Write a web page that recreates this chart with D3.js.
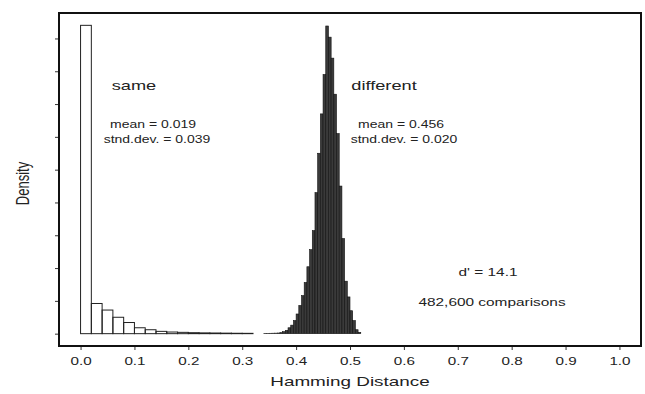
<!DOCTYPE html>
<html>
<head>
<meta charset="utf-8">
<script src="https://cdn.jsdelivr.net/npm/d3@7"></script>
<style>
  body { margin: 0; background: #fff; }
  text { font-family: "Liberation Sans", Arial, sans-serif; fill: #222; }
</style>
</head>
<body>
<svg id="chart" width="645" height="394"></svg>
<script>
// "same" eye comparisons, bin width 0.02
const sameBinWidth = 0.02;
const sameStarts = [0.00, 0.02, 0.04, 0.06, 0.08, 0.10, 0.12, 0.14, 0.16, 0.18, 0.20, 0.22, 0.24, 0.26, 0.28, 0.30];
const sameDensity = [47.0, 4.6, 3.6, 2.5, 1.7, 0.9, 0.6, 0.35, 0.25, 0.2, 0.15, 0.12, 0.1, 0.08, 0.06, 0.05];

// "different" eye comparisons, bin width 0.005
const diffBinWidth = 0.005;
const diffStarts = [0.340, 0.345, 0.350, 0.355, 0.360, 0.365, 0.370, 0.375, 0.380, 0.385,
  0.390, 0.395, 0.400, 0.405, 0.410, 0.415, 0.420, 0.425, 0.430, 0.435,
  0.440, 0.445, 0.450, 0.455, 0.460, 0.465, 0.470, 0.475, 0.480, 0.485,
  0.490, 0.495, 0.500, 0.505, 0.510, 0.515];
const diffDensity = [0.05, 0.05, 0.06, 0.07, 0.08, 0.1, 0.15, 0.3, 0.5, 0.9,
  1.3, 2.0, 3.0, 4.3, 5.8, 7.8, 10.2, 12.8, 15.7, 21.5,
  27.5, 33.5, 39.5, 46.9, 45.2, 42.0, 36.5, 30.5, 22.5, 14.5,
  8.0, 5.6, 3.5, 2.0, 0.6, 0.2];

const xTicks = [0, 0.1, 0.2, 0.3, 0.4, 0.5, 0.6, 0.7, 0.8, 0.9, 1.0];
const yTicks = [0, 5, 10, 15, 20, 25, 30, 35, 40, 45];

const sameLabels = ["same", "mean = 0.019", "stnd.dev. = 0.039"];
const diffLabels = ["different", "mean = 0.456", "stnd.dev. = 0.020"];
const summaryLabels = ["d' = 14.1", "482,600 comparisons"];

const svg = d3.select("#chart");
const plotLeft = 59, plotRight = 641, plotTop = 13, plotBottom = 346;
// the original figure is stretched sideways, text included
const stretch = 1.4;

const x = d3.scaleLinear().domain([-0.04, 1.04]).range([plotLeft, plotRight]);
const y = d3.scaleLinear().domain([-1.88, 48.88]).range([plotBottom, plotTop]);

const same = sameStarts.map((s, i) => ({ x0: s, x1: s + sameBinWidth, v: sameDensity[i] }));
const diff = diffStarts.map((s, i) => ({ x0: s, x1: s + diffBinWidth, v: diffDensity[i] }));

// different histogram (dark)
svg.append("g")
  .selectAll("rect")
  .data(diff)
  .join("rect")
  .attr("x", d => x(d.x0))
  .attr("y", d => y(d.v))
  .attr("width", d => x(d.x1) - x(d.x0))
  .attr("height", d => y(0) - y(d.v))
  .attr("fill", "#3a3a3a")
  .attr("stroke", "#111")
  .attr("stroke-width", 0.6);

// same histogram (open bars)
svg.append("g")
  .selectAll("rect")
  .data(same)
  .join("rect")
  .attr("x", d => x(d.x0))
  .attr("y", d => y(d.v))
  .attr("width", d => x(d.x1) - x(d.x0))
  .attr("height", d => y(0) - y(d.v))
  .attr("fill", "none")
  .attr("stroke", "#222")
  .attr("stroke-width", 1);

// axes
const xAxis = svg.append("g")
  .attr("transform", `translate(0,${plotBottom})`)
  .call(d3.axisBottom(x).tickValues(xTicks).tickSize(4).tickPadding(8).tickFormat(d3.format(".1f")));
xAxis.select(".domain").remove();
xAxis.selectAll("text").attr("font-size", 10.5).attr("fill", "#333")
  .attr("transform", `scale(${stretch + 0.05},1)`)
  .style("font-family", "'Liberation Sans', Arial, sans-serif");
xAxis.selectAll("line").attr("stroke", "#333");

const yAxis = svg.append("g")
  .attr("transform", `translate(${plotLeft},0)`)
  .call(d3.axisLeft(y).tickValues(yTicks).tickSize(4).tickFormat(""));
yAxis.select(".domain").remove();
yAxis.selectAll("line").attr("stroke", "#333");

// frame
svg.append("rect")
  .attr("x", plotLeft).attr("y", plotTop)
  .attr("width", plotRight - plotLeft).attr("height", plotBottom - plotTop)
  .attr("fill", "none").attr("stroke", "#111").attr("stroke-width", 2);

// text helper: centred, stretched sideways
function label(txt, cx, cy, size) {
  svg.append("text")
    .attr("transform", `translate(${cx},${cy}) scale(${stretch},1)`)
    .attr("text-anchor", "middle").attr("font-size", size).text(txt);
}

// axis titles
label("Hamming Distance", x(0.5), 386, 13.5);
svg.append("text")
  .attr("transform", `translate(29,${(plotTop + plotBottom) / 2 + 4}) rotate(-90) scale(1,${stretch})`)
  .attr("text-anchor", "middle").attr("font-size", 13)
  .text("Density");

// annotations
label(sameLabels[0], 134, 90, 13);
label(sameLabels[1], 153, 128, 10);
label(sameLabels[2], 157, 143, 10);
label(diffLabels[0], 384, 90, 13);
label(diffLabels[1], 401, 128, 10);
label(diffLabels[2], 404, 143, 10);
label(summaryLabels[0], 488, 276, 11);
label(summaryLabels[1], 492, 306, 11);
</script>
</body>
</html>
